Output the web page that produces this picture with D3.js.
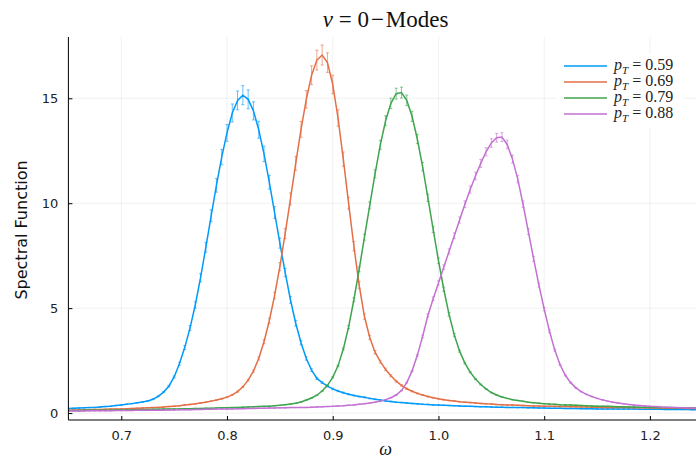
<!DOCTYPE html>
<html><head><meta charset="utf-8">
<script src="https://cdn.jsdelivr.net/npm/d3@7"></script>
<style>body{margin:0;background:#fff;} svg{display:block;}</style>
</head><body>
<svg id="chart" width="696" height="461"></svg>
<script>
// ---- data ----
const omega = [
 0.650,0.655,0.660,0.665,0.670,0.675,0.680,0.685,0.690,0.695,
 0.700,0.705,0.710,0.715,0.720,0.725,0.730,0.735,0.740,0.745,
 0.750,0.755,0.760,0.765,0.770,0.775,0.780,0.785,0.790,0.795,
 0.800,0.805,0.810,0.815,0.820,0.825,0.830,0.835,0.840,0.845,
 0.850,0.855,0.860,0.865,0.870,0.875,0.880,0.885,0.890,0.895,
 0.900,0.905,0.910,0.915,0.920,0.925,0.930,0.935,0.940,0.945,
 0.950,0.955,0.960,0.965,0.970,0.975,0.980,0.985,0.990,0.995,
 1.000,1.005,1.010,1.015,1.020,1.025,1.030,1.035,1.040,1.045,
 1.050,1.055,1.060,1.065,1.070,1.075,1.080,1.085,1.090,1.095,
 1.100,1.105,1.110,1.115,1.120,1.125,1.130,1.135,1.140,1.145,
 1.150,1.155,1.160,1.165,1.170,1.175,1.180,1.185,1.190,1.195,
 1.200,1.205,1.210,1.215,1.220,1.225,1.230,1.235,1.240,1.245,
 1.250];

const seriesP059 = [
 0.22,0.23,0.24,0.25,0.26,0.27,0.29,0.31,0.33,0.36,
 0.39,0.42,0.45,0.49,0.53,0.58,0.66,0.80,1.00,1.28,
 1.72,2.35,3.12,4.05,5.15,6.45,7.90,9.40,10.85,12.20,
 13.35,14.30,14.90,15.15,14.95,14.40,13.50,12.35,11.00,9.55,
 8.10,6.70,5.40,4.28,3.35,2.60,2.05,1.65,1.45,1.28,
 1.15,1.05,0.97,0.90,0.84,0.79,0.75,0.70,0.66,0.62,
 0.58,0.55,0.52,0.50,0.48,0.46,0.44,0.42,0.41,0.39,
 0.38,0.37,0.36,0.35,0.34,0.33,0.32,0.31,0.30,0.30,
 0.29,0.28,0.28,0.27,0.27,0.26,0.26,0.25,0.25,0.24,
 0.24,0.23,0.23,0.23,0.22,0.22,0.22,0.21,0.21,0.21,
 0.20,0.20,0.20,0.20,0.19,0.19,0.19,0.19,0.18,0.18,
 0.18,0.18,0.18,0.17,0.17,0.17,0.17,0.17,0.16,0.16,
 0.16];

const seriesP069 = [
 0.14,0.15,0.15,0.16,0.16,0.17,0.17,0.18,0.19,0.19,
 0.20,0.21,0.22,0.23,0.24,0.25,0.26,0.27,0.29,0.31,
 0.33,0.35,0.38,0.41,0.44,0.48,0.52,0.57,0.62,0.68,
 0.76,0.87,1.02,1.25,1.57,2.00,2.60,3.40,4.40,5.60,
 6.98,8.55,10.20,11.90,13.52,14.95,16.10,16.82,17.06,16.70,
 15.66,14.06,12.10,10.00,7.95,6.10,4.60,3.60,2.90,2.45,
 2.08,1.78,1.52,1.32,1.16,1.04,0.94,0.86,0.79,0.73,
 0.68,0.64,0.60,0.57,0.54,0.52,0.50,0.48,0.46,0.44,
 0.43,0.41,0.40,0.39,0.38,0.37,0.36,0.35,0.34,0.34,
 0.33,0.32,0.32,0.31,0.31,0.30,0.30,0.29,0.29,0.28,
 0.28,0.27,0.27,0.27,0.26,0.26,0.26,0.25,0.25,0.25,
 0.24,0.24,0.24,0.23,0.23,0.23,0.23,0.22,0.22,0.22,
 0.22];

const seriesP079 = [
 0.12,0.12,0.12,0.13,0.13,0.13,0.14,0.14,0.14,0.15,
 0.15,0.15,0.16,0.16,0.17,0.17,0.18,0.18,0.19,0.19,
 0.20,0.20,0.21,0.21,0.22,0.22,0.23,0.23,0.24,0.25,
 0.25,0.26,0.27,0.28,0.29,0.30,0.31,0.32,0.33,0.35,
 0.37,0.40,0.43,0.47,0.53,0.62,0.72,0.85,1.05,1.32,
 1.70,2.25,3.05,4.10,5.40,6.85,8.38,9.90,11.40,12.78,
 13.93,14.76,15.22,15.27,14.90,14.14,13.06,11.74,10.26,8.75,
 7.26,5.90,4.70,3.72,2.95,2.38,1.95,1.62,1.36,1.15,
 0.98,0.86,0.77,0.70,0.64,0.60,0.56,0.52,0.49,0.47,
 0.45,0.43,0.42,0.40,0.39,0.38,0.37,0.36,0.35,0.34,
 0.33,0.32,0.32,0.31,0.30,0.30,0.29,0.29,0.28,0.28,
 0.27,0.27,0.26,0.26,0.26,0.25,0.25,0.25,0.24,0.24,
 0.24];

const seriesP088 = [
 0.10,0.10,0.10,0.10,0.11,0.11,0.11,0.11,0.11,0.12,
 0.12,0.12,0.12,0.13,0.13,0.13,0.14,0.14,0.14,0.15,
 0.15,0.16,0.16,0.16,0.17,0.17,0.18,0.18,0.19,0.19,
 0.20,0.20,0.21,0.21,0.22,0.22,0.23,0.23,0.24,0.24,
 0.25,0.25,0.26,0.26,0.27,0.27,0.28,0.29,0.30,0.31,
 0.32,0.34,0.35,0.37,0.39,0.42,0.45,0.48,0.52,0.57,
 0.64,0.73,0.86,1.07,1.45,2.00,2.75,3.65,4.65,5.45,
 6.20,6.95,7.70,8.45,9.20,9.95,10.65,11.30,11.90,12.45,
 12.87,13.12,13.15,12.80,12.10,11.15,9.95,8.65,7.35,6.10,
 4.95,3.90,3.00,2.30,1.80,1.45,1.20,1.02,0.89,0.79,
 0.70,0.63,0.57,0.52,0.48,0.44,0.41,0.38,0.36,0.34,
 0.32,0.31,0.29,0.28,0.27,0.26,0.25,0.24,0.24,0.23,
 0.22];

// relative error of each series (read from the error-bar lengths)
const relError = [0.03, 0.028, 0.017, 0.016];
const pTLabels = ["0.59", "0.69", "0.79", "0.88"];
const xTickValues = [0.7, 0.8, 0.9, 1.0, 1.1, 1.2];
const xTickLabels = ["0.7", "0.8", "0.9", "1.0", "1.1", "1.2"];
const yTickValues = [0, 5, 10, 15];
const yTickLabels = ["0", "5", "10", "15"];

(function () {
// ---- drawing ----
const allSeries = [seriesP059, seriesP069, seriesP079, seriesP088];
const colors = ["#009AFA", "#E36F47", "#3EA44E", "#C371D2"];

const svg = d3.select("#chart");
const pL = 68.4, pR = 702.8, pT = 37, pB = 420;
const x = d3.scaleLinear().domain([0.65, 1.25]).range([pL, pR]);
const y = d3.scaleLinear().domain([-0.33, 17.92]).range([pB, pT]);

svg.append("rect").attr("width", 696).attr("height", 461).attr("fill", "#fff");

svg.append("defs").append("clipPath").attr("id", "plotclip")
  .append("rect").attr("x", pL).attr("y", pT).attr("width", pR - pL).attr("height", pB - pT);

// grid
const grid = svg.append("g");
grid.selectAll("line.vx").data(xTickValues).join("line")
  .attr("x1", d => x(d)).attr("x2", d => x(d)).attr("y1", pT).attr("y2", pB)
  .attr("stroke", "#000").attr("stroke-opacity", 0.1).attr("stroke-width", 0.6);
grid.selectAll("line.hy").data(yTickValues).join("line")
  .attr("x1", pL).attr("x2", pR).attr("y1", d => y(d)).attr("y2", d => y(d))
  .attr("stroke", "#000").attr("stroke-opacity", 0.1).attr("stroke-width", 0.6);

// series
const plot = svg.append("g").attr("clip-path", "url(#plotclip)");
const line = d3.line().x((d, i) => x(omega[i])).y(d => y(d));
allSeries.forEach((s, k) => {
  const g = plot.append("g");
  const c = colors[k];
  const eb = g.append("g").attr("stroke", c).attr("stroke-opacity", 0.6).attr("stroke-width", 1);
  s.forEach((v, i) => {
    const e = v * relError[k];
    const xi = x(omega[i]);
    const y1 = y(v - e), y2 = y(v + e);
    eb.append("line").attr("x1", xi).attr("x2", xi).attr("y1", y1).attr("y2", y2);
    eb.append("line").attr("x1", xi - 1.5).attr("x2", xi + 1.5).attr("y1", y1).attr("y2", y1);
    eb.append("line").attr("x1", xi - 1.5).attr("x2", xi + 1.5).attr("y1", y2).attr("y2", y2);
  });
  g.append("path").datum(s).attr("d", line).attr("fill", "none")
    .attr("stroke", c).attr("stroke-width", 1.5);
});

// axes
const xAxis = d3.axisBottom(x).tickValues(xTickValues).tickFormat((d, i) => xTickLabels[i])
  .tickSizeInner(-4).tickSizeOuter(0).tickPadding(11);
const yAxis = d3.axisLeft(y).tickValues(yTickValues).tickFormat((d, i) => yTickLabels[i])
  .tickSizeInner(-4).tickSizeOuter(0).tickPadding(10);

const gx = svg.append("g").attr("transform", `translate(0,${pB})`).call(xAxis);
const gy = svg.append("g").attr("transform", `translate(${pL},0)`).call(yAxis);
gx.select(".domain").attr("d", `M${pL},0H${pR}`);
gy.select(".domain").attr("d", `M0,${pT}V${pB}`);
[gx, gy].forEach(g => {
  g.select(".domain").attr("stroke", "#000").attr("stroke-width", 1);
  g.selectAll(".tick line").attr("stroke", "#000").attr("stroke-width", 1);
  g.selectAll(".tick text").attr("fill", "#222")
    .style("font-family", "'DejaVu Sans', sans-serif").style("font-size", "13px");
});

// title
const title = svg.append("text").attr("x", (pL + pR) / 2).attr("y", 27)
  .attr("text-anchor", "middle").style("font-family", "'Liberation Serif', serif")
  .style("font-size", "23px").attr("fill", "#111");
title.append("tspan").style("font-style", "italic").text("ν");
title.append("tspan").text(" = 0\u200A−\u200AModes");

// axis labels
svg.append("text").attr("x", (pL + pR) / 2).attr("y", 455)
  .attr("text-anchor", "middle").style("font-family", "'Liberation Serif', serif")
  .style("font-style", "italic").style("font-size", "18px").attr("fill", "#111").text("ω");
svg.append("text").attr("transform", "translate(27,230) rotate(-90)")
  .attr("text-anchor", "middle").style("font-family", "'DejaVu Sans', sans-serif")
  .style("font-size", "16px").attr("fill", "#111").text("Spectral Function");

// legend
const lg = svg.append("g");
lg.append("rect").attr("x", 557).attr("y", 54).attr("width", 127).attr("height", 74).attr("fill", "#fff");
pTLabels.forEach((lab, k) => {
  const ly = 66 + k * 16;
  lg.append("line").attr("x1", 564).attr("x2", 607).attr("y1", ly).attr("y2", ly)
    .attr("stroke", colors[k]).attr("stroke-width", 1.5);
  const t = lg.append("text").attr("x", 614).attr("y", ly + 4)
    .style("font-family", "'Liberation Serif', serif").style("font-size", "16px").attr("fill", "#222");
  t.append("tspan").style("font-style", "italic").text("p");
  t.append("tspan").style("font-style", "italic").style("font-size", "11px").attr("dy", 4).text("T");
  t.append("tspan").attr("dy", -4).text(" = " + lab);
});
})();
</script>
</body></html>
